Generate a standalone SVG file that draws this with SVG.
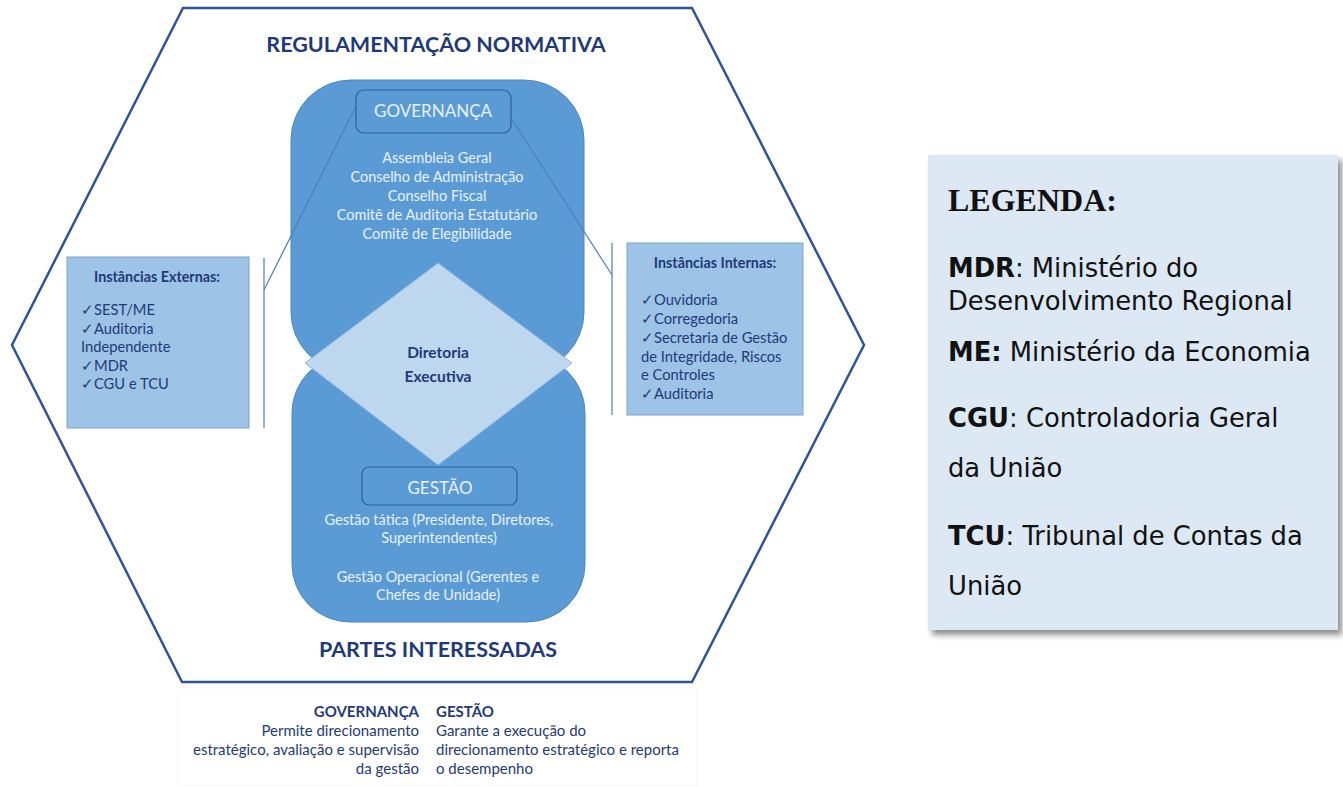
<svg xmlns="http://www.w3.org/2000/svg" width="1343" height="787" viewBox="0 0 1343 787">
<defs>
<filter id="shadow" x="-5%" y="-5%" width="115%" height="115%">
<feGaussianBlur in="SourceAlpha" stdDeviation="3"/>
<feOffset dx="4" dy="5" result="b"/>
<feComponentTransfer><feFuncA type="linear" slope="0.45"/></feComponentTransfer>
<feMerge><feMergeNode/><feMergeNode in="SourceGraphic"/></feMerge>
</filter>
</defs>
<style>
.c{font-family:Lato,"Open Sans","Liberation Sans",sans-serif}
.big{fill:#5b9bd5;stroke:#4a87c4;stroke-width:1}
.lab{fill:#5b9bd5;stroke:#2f5f95;stroke-width:1.2}
.wt{fill:#e9f1fa;font-size:14.5px;text-anchor:middle}
.side{fill:#9dc3e6;stroke:#7aa3cf;stroke-width:1}
.nv{fill:#1f3a78}
.sd{font-size:14.7px}
.ft{font-size:15px}
.leg{font-family:"DejaVu Sans",Verdana,sans-serif;font-size:25.8px;fill:#111}
.conn{stroke:#4f7fb5;stroke-width:1.2;fill:none}
</style>
<rect width="1343" height="787" fill="#ffffff"/>
<g id="hexagon">
<polygon points="183,8 692,8 864,345 692,682 182,682 12,345" fill="#ffffff" stroke="#2f5597" stroke-width="2.5"/>
<text class="c nv" x="436" y="52" font-size="21.5" font-weight="bold" text-anchor="middle">REGULAMENTAÇÃO NORMATIVA</text>
<text class="c nv" x="438" y="657" font-size="21.5" font-weight="bold" text-anchor="middle">PARTES INTERESSADAS</text>
</g>
<g id="governanca">
<rect class="big" x="291" y="80" width="293" height="292" rx="60"/>
</g>
<g id="gestao">
<rect class="big" x="292" y="355" width="293" height="267" rx="58"/>
</g>
<g id="connectors">
<line class="conn" x1="356" y1="106" x2="264" y2="290"/>
<line class="conn" x1="264" y1="258" x2="264" y2="428"/>
<line class="conn" x1="511" y1="118" x2="612" y2="275"/>
<line class="conn" x1="612" y1="243" x2="612" y2="415"/>
</g>
<g id="governanca-content">
<rect class="lab" x="356" y="90" width="155" height="43" rx="8"/>
<text class="c" x="433" y="117" font-size="17" fill="#e9f1fa" text-anchor="middle">GOVERNANÇA</text>
<text class="c wt" x="437" y="163">Assembleia Geral</text>
<text class="c wt" x="437" y="182">Conselho de Administração</text>
<text class="c wt" x="437" y="201">Conselho Fiscal</text>
<text class="c wt" x="437" y="220">Comitê de Auditoria Estatutário</text>
<text class="c wt" x="437" y="239">Comitê de Elegibilidade</text>
</g>
<g id="diretoria">
<polygon points="438,263 572,363 438,465 305,363" fill="#bdd7ee" stroke="#8fb4dc" stroke-width="1"/>
<text class="c nv" x="438" y="358" font-size="15.5" font-weight="bold" text-anchor="middle">Diretoria</text>
<text class="c nv" x="438" y="382" font-size="15.5" font-weight="bold" text-anchor="middle">Executiva</text>
</g>
<g id="gestao-content">
<rect class="lab" x="362" y="467" width="155" height="38" rx="7"/>
<text class="c" x="440" y="494" font-size="17" fill="#e9f1fa" text-anchor="middle">GESTÃO</text>
<text class="c wt" x="439" y="525">Gestão tática (Presidente, Diretores,</text>
<text class="c wt" x="439" y="543">Superintendentes)</text>
<text class="c wt" x="438" y="582">Gestão Operacional (Gerentes e</text>
<text class="c wt" x="438" y="600">Chefes de Unidade)</text>
</g>
<g id="instancias-externas">
<rect class="side" x="67" y="257" width="182" height="171"/>
<text class="c nv" x="157" y="282" font-size="14.3" font-weight="bold" text-anchor="middle">Instâncias Externas:</text>
<text class="c nv sd" x="81" y="315">✓SEST/ME</text>
<text class="c nv sd" x="81" y="333.5">✓Auditoria</text>
<text class="c nv sd" x="81" y="352">Independente</text>
<text class="c nv sd" x="81" y="370.5">✓MDR</text>
<text class="c nv sd" x="81" y="389">✓CGU e TCU</text>
</g>
<g id="instancias-internas">
<rect class="side" x="627" y="243" width="176" height="172"/>
<text class="c nv" x="715" y="268" font-size="14.3" font-weight="bold" text-anchor="middle">Instâncias Internas:</text>
<text class="c nv sd" x="641" y="305">✓Ouvidoria</text>
<text class="c nv sd" x="641" y="324">✓Corregedoria</text>
<text class="c nv sd" x="641" y="343">✓Secretaria de Gestão</text>
<text class="c nv sd" x="641" y="361.5">de Integridade, Riscos</text>
<text class="c nv sd" x="641" y="380">e Controles</text>
<text class="c nv sd" x="641" y="398.5">✓Auditoria</text>
</g>
<g id="rodape">
<rect x="178" y="688" width="519" height="99" fill="#ffffff" stroke="#f7f7f7" stroke-width="1"/>
<text class="c nv ft" x="419" y="717" font-weight="bold" text-anchor="end">GOVERNANÇA</text>
<text class="c nv ft" x="419" y="736" text-anchor="end">Permite direcionamento</text>
<text class="c nv ft" x="419" y="755" text-anchor="end">estratégico, avaliação e supervisão</text>
<text class="c nv ft" x="419" y="774" text-anchor="end">da gestão</text>
<text class="c nv ft" x="436" y="717" font-weight="bold">GESTÃO</text>
<text class="c nv ft" x="436" y="736">Garante a execução do</text>
<text class="c nv ft" x="436" y="755">direcionamento estratégico e reporta</text>
<text class="c nv ft" x="436" y="774">o desempenho</text>
</g>
<g id="legenda">
<rect x="928" y="155" width="410" height="475" fill="#dde8f5" filter="url(#shadow)"/>
<text x="948" y="211" font-family="'Liberation Serif','Times New Roman',serif" font-size="32" font-weight="bold" fill="#111">LEGENDA:</text>
<text class="leg" x="948" y="277"><tspan font-weight="bold">MDR</tspan>: Ministério do</text>
<text class="leg" x="948" y="310">Desenvolvimento Regional</text>
<text class="leg" x="948" y="361"><tspan font-weight="bold">ME:</tspan> Ministério da Economia</text>
<text class="leg" x="948" y="427"><tspan font-weight="bold">CGU</tspan>: Controladoria Geral</text>
<text class="leg" x="948" y="477">da União</text>
<text class="leg" x="948" y="545"><tspan font-weight="bold">TCU</tspan>: Tribunal de Contas da</text>
<text class="leg" x="948" y="595">União</text>
</g>
</svg>
